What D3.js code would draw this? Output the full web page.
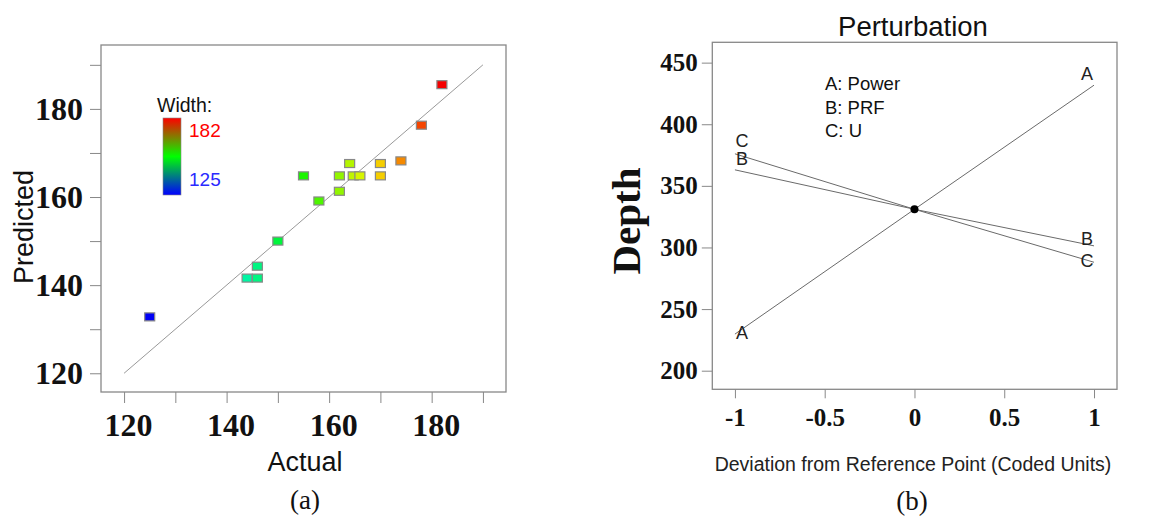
<!DOCTYPE html>
<html>
<head>
<meta charset="utf-8">
<script src="https://cdn.jsdelivr.net/npm/d3@7"></script>
<style>
  body { margin: 0; background: #fff; }
  svg text { font-family: Arial, "Liberation Sans", sans-serif; }
  .num text { font-family: "Liberation Serif", "Times New Roman", serif; font-weight: bold; fill: #111; }
  .num line { stroke: #888; }
  .num path { display: none; }
</style>
</head>
<body>
<svg id="chart" width="1160" height="517"></svg>
<script>
// (a) predicted vs actual
const actual    = [125, 144, 146, 146, 150, 155, 158, 162, 162, 164, 164.7, 166, 170, 170, 174, 178, 182];
const predicted = [132.8, 141.6, 141.6, 144.3, 150, 164.8, 159.1, 161.3, 164.8, 167.6, 164.8, 164.8, 167.6, 164.8, 168.2, 176.3, 185.5];
const ticksA = [120, 130, 140, 150, 160, 170, 180, 190];
const widthRange = [125, 182];

// (b) perturbation
const coded = [-1, 0, 1];
const depthA = [229.7, 331, 431.7];
const depthB = [363, 331, 301.3];
const depthC = [376, 331, 288];
const ticksBx = [-1, -0.5, 0, 0.5, 1];
const ticksBy = [200, 250, 300, 350, 400, 450];
const factorNames = ["A: Power", "B: PRF", "C: U"];

const svg = d3.select('#chart');

// ---------- left chart ----------
const xA = d3.scaleLinear().domain([115.5, 194.5]).range([101, 506]);
const yA = d3.scaleLinear().domain([115.75, 194.5]).range([392, 45]);

svg.append('rect')
  .attr('x', 101).attr('y', 45).attr('width', 405).attr('height', 347)
  .attr('fill', 'none').attr('stroke', '#888').attr('stroke-width', 1.3);

const fmtA = d => d % 20 === 0 ? d : '';

svg.append('g').attr('class', 'num')
  .attr('transform', 'translate(101,0)')
  .call(d3.axisLeft(yA).tickValues(ticksA).tickFormat(fmtA).tickSize(11).tickPadding(7))
  .selectAll('text').style('font-size', '32px');

svg.append('g').attr('class', 'num')
  .attr('transform', 'translate(0,392)')
  .call(d3.axisBottom(xA).tickValues(ticksA).tickFormat(fmtA).tickSize(11).tickPadding(10))
  .selectAll('text').style('font-size', '32px').attr('dx', 4);

// 1:1 line
svg.append('line')
  .attr('x1', xA(120)).attr('y1', yA(120))
  .attr('x2', xA(190)).attr('y2', yA(190))
  .attr('stroke', '#999').attr('stroke-width', 1);

const hue = d3.scaleLinear().domain(widthRange).range([240, 0]);
const pts = actual.map((a, i) => ({a: a, p: predicted[i]}));

svg.append('g').selectAll('rect')
  .data(pts)
  .join('rect')
  .attr('x', d => xA(d.a) - 5)
  .attr('y', d => yA(d.p) - 4)
  .attr('width', 10).attr('height', 8)
  .attr('fill', d => d3.hsl(hue(d.a), 1, 0.48))
  .attr('stroke', '#888').attr('stroke-width', 1.2);

// colour legend
const grad = svg.append('defs').append('linearGradient')
  .attr('id', 'wgrad').attr('x1', 0).attr('y1', 0).attr('x2', 0).attr('y2', 1);
grad.append('stop').attr('offset', '0%').attr('stop-color', '#ff0000');
grad.append('stop').attr('offset', '50%').attr('stop-color', '#00ff00');
grad.append('stop').attr('offset', '100%').attr('stop-color', '#0000ff');

svg.append('text').attr('x', 157).attr('y', 112)
  .style('font-size', '19.5px').attr('fill', '#111').text('Width:');
svg.append('rect').attr('x', 163).attr('y', 118).attr('width', 18).attr('height', 77)
  .attr('fill', 'url(#wgrad)').attr('stroke', '#888').attr('stroke-width', 0.6);
svg.append('text').attr('x', 189).attr('y', 137)
  .style('font-size', '19px').attr('fill', '#ff0000').text(widthRange[1]);
svg.append('text').attr('x', 189).attr('y', 186)
  .style('font-size', '19px').attr('fill', '#2a2aff').text(widthRange[0]);

svg.append('text').attr('x', 305).attr('y', 471).attr('text-anchor', 'middle')
  .style('font-size', '27px').attr('fill', '#111').text('Actual');
svg.append('text').attr('transform', 'translate(33,227) rotate(-90)').attr('text-anchor', 'middle')
  .style('font-size', '27px').attr('fill', '#111').text('Predicted');
svg.append('text').attr('x', 305).attr('y', 509).attr('text-anchor', 'middle')
  .style('font-family', '"Liberation Serif", "Times New Roman", serif')
  .style('font-size', '27px').attr('fill', '#111').text('(a)');

// ---------- right chart ----------
const xB = d3.scaleLinear().domain([-1.126, 1.128]).range([712.3, 1117]);
const yB = d3.scaleLinear().domain([184.9, 466.5]).range([389.3, 42.3]);

svg.append('rect')
  .attr('x', 712.3).attr('y', 42.3).attr('width', 1117 - 712.3).attr('height', 389.3 - 42.3)
  .attr('fill', 'none').attr('stroke', '#888').attr('stroke-width', 1.3);

svg.append('g').attr('class', 'num')
  .attr('transform', 'translate(712.3,0)')
  .call(d3.axisLeft(yB).tickValues(ticksBy).tickSize(10.5).tickPadding(4))
  .selectAll('text').style('font-size', '25px');

svg.append('g').attr('class', 'num')
  .attr('transform', 'translate(0,389.3)')
  .call(d3.axisBottom(xB).tickValues(ticksBx).tickFormat(d => String(d)).tickSize(9).tickPadding(10))
  .selectAll('text').style('font-size', '25px');

const series = [
  {name: 'A', vals: depthA, left: 5, right: -5},
  {name: 'B', vals: depthB, left: -5, right: -1},
  {name: 'C', vals: depthC, left: -7, right: 5}
];
const line = d3.line().x((d, i) => xB(coded[i])).y(d => yB(d));

svg.append('g').selectAll('path')
  .data(series)
  .join('path')
  .attr('d', s => line(s.vals))
  .attr('fill', 'none').attr('stroke', '#6a6a6a').attr('stroke-width', 1);

const lbl = svg.append('g').style('font-size', '18px').attr('fill', '#222').attr('text-anchor', 'middle');
series.forEach(s => {
  lbl.append('text').attr('x', xB(-1) + 7).attr('y', yB(s.vals[0]) + s.left).text(s.name);
  lbl.append('text').attr('x', xB(1) - 7).attr('y', yB(s.vals[2]) + s.right).text(s.name);
});

svg.append('circle').attr('cx', xB(0)).attr('cy', yB(depthA[1])).attr('r', 4).attr('fill', '#000');

svg.append('g').selectAll('text')
  .data(factorNames)
  .join('text')
  .attr('x', 825).attr('y', (d, i) => 90 + i * 23.5)
  .style('font-size', '18.5px').attr('fill', '#111')
  .text(d => d);

svg.append('text').attr('x', 913).attr('y', 36).attr('text-anchor', 'middle')
  .style('font-size', '27.5px').attr('fill', '#111').text('Perturbation');
svg.append('text').attr('transform', 'translate(640,221) rotate(-90)').attr('text-anchor', 'middle')
  .style('font-family', '"Liberation Serif", "Times New Roman", serif').style('font-weight', 'bold')
  .style('font-size', '41px').attr('fill', '#111').text('Depth');
svg.append('text').attr('x', 913).attr('y', 471).attr('text-anchor', 'middle')
  .style('font-size', '19.5px').attr('fill', '#222').text('Deviation from Reference Point (Coded Units)');
svg.append('text').attr('x', 912).attr('y', 510).attr('text-anchor', 'middle')
  .style('font-family', '"Liberation Serif", "Times New Roman", serif')
  .style('font-size', '27px').attr('fill', '#111').text('(b)');
</script>
</body>
</html>
